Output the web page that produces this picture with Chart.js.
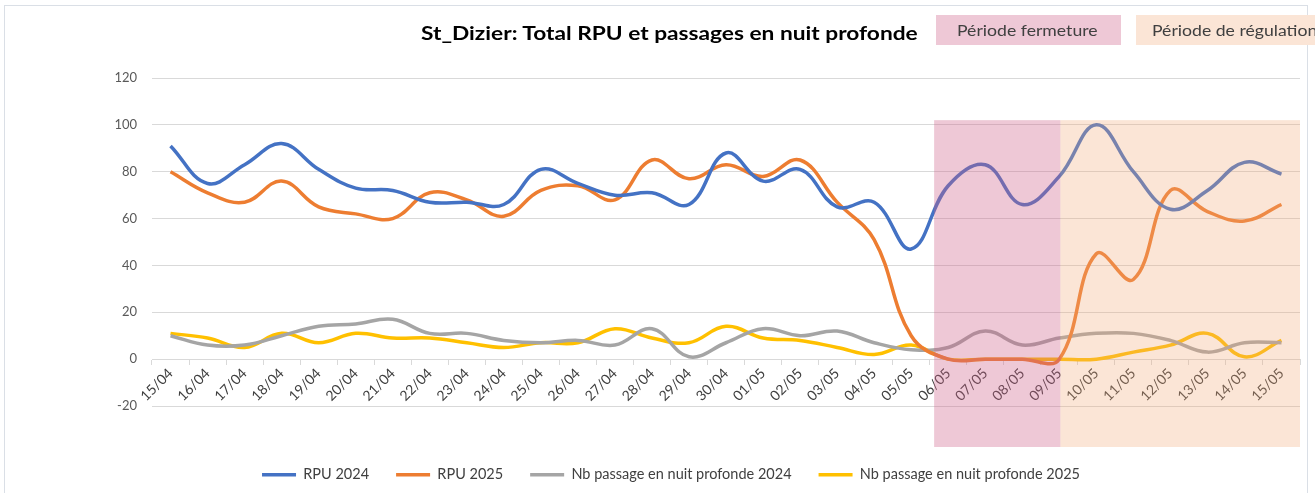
<!DOCTYPE html>
<html>
<head>
<meta charset="utf-8">
<script src="https://cdn.jsdelivr.net/npm/chart.js@4.4.1/dist/chart.umd.min.js"></script>
<style>
  html, body { margin: 0; padding: 0; background: #ffffff; }
  #wrap { position: relative; width: 1315px; height: 493px; overflow: hidden; background: #fff; }
  #frame { position: absolute; left: 4px; top: 5px; width: 1304px; height: 600px; border: 1px solid #dadfe6; box-sizing: border-box; }
  canvas { position: absolute; left: 0; top: 0; }
  #title { position: absolute; left: 421px; top: 19px; height: 28px; line-height: 28px; font-family: Lato, "Open Sans", sans-serif; font-weight: bold; font-size: 19px; color: #000; white-space: nowrap; transform: scaleX(1.195); transform-origin: 0 50%; }
  .period { position: absolute; top: 15px; height: 30px; line-height: 30px; font-family: Lato, "Open Sans", sans-serif; font-size: 15px; color: #404040; white-space: nowrap; overflow: hidden; box-sizing: border-box; }
  .period span { display: inline-block; transform: scaleX(1.175); transform-origin: 0 50%; }
  #p1 { left: 936px; width: 185px; background: #eec8d6; padding-left: 21px; }
  #p2 { left: 1136px; width: 190px; background: #fbe5d6; padding-left: 16px; }
</style>
</head>
<body>
<div id="wrap">
  <div id="frame"></div>
  <canvas id="c" width="1315" height="493"></canvas>
  <div id="title">St_Dizier: Total RPU et passages en nuit profonde</div>
  <div class="period" id="p1"><span>Période fermeture</span></div>
  <div class="period" id="p2"><span>Période de régulation</span></div>
</div>
<script>
const labels = ['15/04','16/04','17/04','18/04','19/04','20/04','21/04','22/04','23/04','24/04','25/04','26/04','27/04','28/04','29/04','30/04','01/05','02/05','03/05','04/05','05/05','06/05','07/05','08/05','09/05','10/05','11/05','12/05','13/05','14/05','15/05'];
const rpu2024 = [91,75,83,92,81,73,72,67,67,66,81,75,70,71,66,88,76,81,65,67,47,74,83,66,78,100,80,64,72,84,79];
const rpu2025 = [80,71,67,76,65,62,60,71,68,61,72,74,68,85,77,83,78,85,67,51,10,0,0,0,0,45,34,72,63,59,66];
const nuit2024 = [10,6,6,10,14,15,17,11,11,8,7,8,6,13,1,7,13,10,12,7,4,5,12,6,9,11,11,8,3,7,7];
const nuit2025 = [11,9,5,11,7,11,9,9,7,5,7,7,13,9,7,14,9,8,5,2,6,0,0,0,0,0,3,6,11,1,8];
const seriesNames = ['RPU 2024','RPU 2025','Nb passage en nuit profonde 2024','Nb passage en nuit profonde 2025'];
const seriesColors = ['#4472C4','#ED7D31','#A5A5A5','#FFC000'];
const yTicks = [-20,0,20,40,60,80,100,120];
// shaded periods: [start label, end label, start shift (in categories), end shift]
const periodFermeture = ['06/05','09/05',-0.38,0.03];
const periodRegulation = ['09/05','15/05',0.03,0.5];
const shadeTop = 102, shadeBottom = -37.5;

const shadePlugin = {
  id: 'shade',
  afterDatasetsDraw(chart) {
    const {ctx, scales: {x, y}} = chart;
    const step = x.getPixelForValue(1) - x.getPixelForValue(0);
    const draw = (p, color) => {
      const x0 = x.getPixelForValue(labels.indexOf(p[0])) + p[2] * step;
      const x1 = x.getPixelForValue(labels.indexOf(p[1])) + p[3] * step;
      const y0 = y.getPixelForValue(shadeTop);
      const y1 = y.getPixelForValue(shadeBottom);
      ctx.save();
      ctx.fillStyle = color;
      ctx.fillRect(x0, y0, x1 - x0, y1 - y0);
      ctx.restore();
    };
    draw(periodFermeture, 'rgba(206,98,138,0.35)');
    draw(periodRegulation, 'rgba(242,168,118,0.30)');
  }
};

const makeDs = (i, data) => ({
  label: seriesNames[i], data, borderColor: seriesColors[i], backgroundColor: seriesColors[i],
  borderWidth: 3.5, tension: 0.4, pointRadius: 0, fill: false
});

new Chart(document.getElementById('c'), {
  type: 'line',
  data: {
    labels,
    datasets: [makeDs(0, rpu2024), makeDs(1, rpu2025), makeDs(2, nuit2024), makeDs(3, nuit2025)]
  },
  options: {
    responsive: false,
    animation: false,
    devicePixelRatio: 1,
    layout: { padding: { left: 42, right: 15, top: 78, bottom: 1 } },
    plugins: {
      legend: {
        position: 'bottom',
        labels: {
          usePointStyle: true, pointStyle: 'line', pointStyleWidth: 34,
          padding: 27, color: '#404040',
          font: { family: 'Lato', size: 14.5 }
        }
      },
      tooltip: { enabled: false },
      title: { display: false }
    },
    scales: {
      x: {
        type: 'category',
        position: { y: 0 },
        offset: true,
        grid: { drawOnChartArea: false, drawTicks: true, tickLength: 5, color: '#d9d9d9', offset: true },
        border: { display: true, color: '#d9d9d9', width: 1 },
        ticks: { minRotation: 45, maxRotation: 45, autoSkip: false, padding: 1, color: '#404040', font: { family: 'Lato', size: 14 } }
      },
      x2: {
        type: 'linear', position: 'bottom', display: true,
        grid: { display: false }, border: { display: false }, ticks: { display: false },
        afterFit(s) { s.height = 34.5; }
      },
      y: {
        min: -20, max: 120,
        afterFit(s) { s.width = 110; },
        afterBuildTicks(s) { s.ticks = yTicks.map(v => ({ value: v })); },
        grid: { color: '#d9d9d9', drawTicks: false, lineWidth: 1 },
        border: { display: false },
        ticks: { padding: 15, color: '#595959', font: { family: 'Lato', size: 13 } }
      }
    }
  },
  plugins: [shadePlugin]
});
</script>
</body>
</html>
